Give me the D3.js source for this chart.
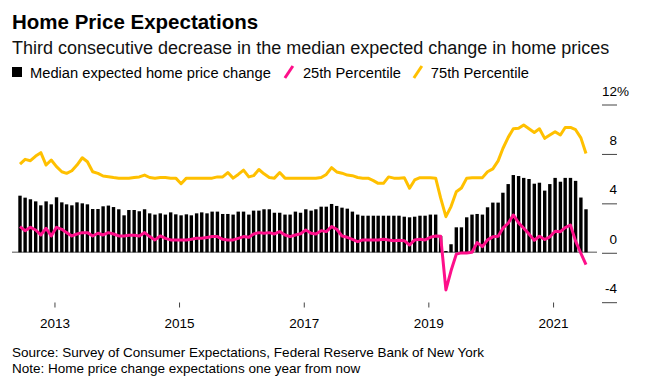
<!DOCTYPE html>
<html>
<head>
<meta charset="utf-8">
<title>Home Price Expectations</title>
<style>
    body { margin: 0; background: #fff; }
    svg { display: block; font-family: "Liberation Sans", Arial, sans-serif; }
    .axis text { font-size: 13.5px; fill: #000; }
    .axis line { stroke: #444; }
</style>
<script src="https://cdn.jsdelivr.net/npm/d3@7"></script>
</head>
<body>
<script>
    const width = 646, height = 383;

    // monthly survey, Jun 2013 .. Jul 2022
    const firstMonth = new Date(2013, 5, 1),
        lastMonth = new Date(2022, 6, 1);
    const months = d3.timeMonth.range(firstMonth, d3.timeMonth.offset(lastMonth, 1));

    const median = [
        4.58, 4.42, 4.29, 4.12, 3.80, 4.12, 3.88, 4.45, 4.04, 3.88,
        3.80, 4.04, 3.96, 3.88, 3.50, 3.50, 3.72, 3.78, 3.66, 3.48,
        2.99, 3.42, 3.42, 3.32, 3.48, 3.15, 3.05, 3.15, 3.05, 3.23,
        3.07, 2.99, 3.07, 2.99, 3.15, 3.23, 3.15, 3.29, 3.29, 3.10,
        3.10, 3.05, 3.29, 3.29, 3.05, 3.37, 3.37, 3.48, 3.48, 3.20,
        3.20, 3.05, 3.05, 3.29, 3.20, 3.48, 3.37, 3.48, 3.69, 3.69,
        3.91, 3.75, 3.61, 3.53, 3.29, 3.05, 2.96, 2.96, 2.96, 2.96,
        2.96, 2.96, 2.96, 2.96, 2.88, 2.83, 2.88, 2.96, 2.96, 3.05,
        3.05, 1.32, 0.10, 0.65, 2.02, 2.02, 2.83, 3.05, 3.10, 3.05,
        3.64, 4.02, 4.02, 4.82, 5.52, 6.25, 6.17, 6.02, 5.93, 5.55,
        5.63, 4.99, 5.52, 6.02, 5.71, 6.02, 6.02, 5.78, 4.43, 3.48
    ];

    const pct25 = [
        2.08, 1.75, 2.02, 1.80, 1.40, 1.94, 1.32, 2.02, 1.86, 1.59,
        1.32, 1.48, 1.59, 1.59, 1.32, 1.54, 1.40, 1.59, 1.48, 1.32,
        1.32, 1.37, 1.37, 1.32, 1.59, 1.27, 1.00, 1.32, 1.13, 1.00,
        1.00, 1.00, 1.00, 1.05, 1.13, 1.13, 1.20, 1.27, 1.27, 1.05,
        1.00, 1.00, 1.13, 1.27, 1.21, 1.48, 1.59, 1.54, 1.59, 1.48,
        1.67, 1.40, 1.27, 1.40, 1.50, 1.80, 1.54, 1.48, 1.75, 1.67,
        2.08, 1.86, 1.32, 1.21, 1.05, 0.86, 1.00, 1.00, 1.00, 1.00,
        1.05, 1.00, 0.94, 0.98, 0.94, 0.59, 1.00, 1.05, 1.00, 1.21,
        1.32, 1.30, -3.05, -1.50, -0.15, -0.05, -0.05, 0.00, 0.78, 0.46,
        1.00, 1.25, 1.30, 1.95, 2.35, 3.02, 2.38, 1.94, 1.47, 0.97,
        1.30, 1.03, 1.25, 1.70, 1.67, 2.00, 2.20, 0.90, -0.08, -1.00
    ];

    const pct75 = [
        7.14, 7.52, 7.41, 7.79, 8.06, 7.06, 7.47, 6.93, 6.52, 6.39,
        6.60, 7.06, 7.65, 7.33, 6.52, 6.39, 6.17, 6.12, 6.05, 6.00,
        6.00, 6.00, 6.05, 6.10, 6.25, 6.05, 6.00, 6.05, 6.05, 6.00,
        6.00, 5.55, 6.00, 6.00, 6.00, 6.00, 6.00, 6.00, 6.10, 6.10,
        6.45, 6.00, 6.30, 6.65, 6.10, 6.20, 6.70, 6.35, 6.05, 6.00,
        6.45, 6.00, 6.00, 6.00, 6.00, 6.00, 6.00, 6.00, 6.05, 6.30,
        6.85, 6.50, 6.40, 6.25, 6.20, 6.05, 6.00, 6.00, 5.80, 5.58,
        5.58, 6.10, 6.00, 6.00, 6.04, 5.18, 5.85, 6.04, 6.04, 6.04,
        6.00, 4.40, 2.88, 3.70, 4.90, 5.20, 6.00, 6.04, 6.04, 6.04,
        6.52, 6.75, 7.40, 8.40, 9.30, 10.00, 10.03, 10.30, 10.00, 9.70,
        10.00, 9.22, 9.49, 9.76, 9.49, 10.10, 10.10, 9.92, 9.26, 8.00
    ];

    const yTicks = [-4, 0, 4, 8, 12];
    const xTickYears = [2013, 2015, 2017, 2019, 2021];

    const pink = "#fe0f8a", yellow = "#ffc000";

    const data = months.map((m, i) => ({date: m, med: median[i], p25: pct25[i], p75: pct75[i]}));

    const x = d3.scaleTime()
        .domain([firstMonth, lastMonth])
        .range([20, 586]);

    const y = d3.scaleLinear()
        .domain([-4, 12])
        .range([301.7, 104]);

    const svg = d3.select("body").append("svg")
        .attr("width", width)
        .attr("height", height);

    svg.append("rect").attr("width", width).attr("height", height).attr("fill", "#fff");

    // titles
    svg.append("text")
        .attr("x", 12).attr("y", 29)
        .attr("font-size", "20.5px")
        .attr("font-weight", "bold")
        .text("Home Price Expectations");

    svg.append("text")
        .attr("x", 12).attr("y", 54)
        .attr("font-size", "18px")
        .attr("fill", "#111")
        .text("Third consecutive decrease in the median expected change in home prices");

    // legend
    const legend = svg.append("g").attr("font-size", "14.7px");
    legend.append("rect")
        .attr("x", 12).attr("y", 67).attr("width", 10).attr("height", 10)
        .attr("fill", "#000");
    const t1 = legend.append("text").attr("x", 30).attr("y", 77.5)
        .text("Median expected home price change");
    let lx = 30 + t1.node().getComputedTextLength() + 14;
    legend.append("line")
        .attr("x1", lx).attr("y1", 78).attr("x2", lx + 8).attr("y2", 66)
        .attr("stroke", pink).attr("stroke-width", 3);
    const t2 = legend.append("text").attr("x", lx + 18).attr("y", 77.5)
        .text("25th Percentile");
    lx = lx + 18 + t2.node().getComputedTextLength() + 13;
    legend.append("line")
        .attr("x1", lx).attr("y1", 78).attr("x2", lx + 8).attr("y2", 66)
        .attr("stroke", yellow).attr("stroke-width", 3);
    legend.append("text").attr("x", lx + 17).attr("y", 77.5)
        .text("75th Percentile");

    // zero line
    svg.append("line")
        .attr("x1", 12).attr("x2", 597)
        .attr("y1", y(0)).attr("y2", y(0))
        .attr("stroke", "#8c8c8c")
        .attr("stroke-width", 1.5);

    // median bars
    svg.append("g")
        .selectAll("rect")
        .data(data)
        .enter().append("rect")
        .attr("x", d => x(d.date) - 1.7)
        .attr("width", 3.4)
        .attr("y", d => y(Math.max(0, d.med)))
        .attr("height", d => Math.abs(y(d.med) - y(0)))
        .attr("fill", "#000");

    const line = key => d3.line()
        .x(d => x(d.date))
        .y(d => y(d[key]));

    svg.append("path")
        .datum(data)
        .attr("d", line("p75"))
        .attr("fill", "none")
        .attr("stroke", yellow)
        .attr("stroke-width", 3)
        .attr("stroke-linejoin", "round");

    svg.append("path")
        .datum(data)
        .attr("d", line("p25"))
        .attr("fill", "none")
        .attr("stroke", pink)
        .attr("stroke-width", 3)
        .attr("stroke-linejoin", "round");

    // y axis, right side, labels sit above the ticks
    const yAxis = svg.append("g")
        .attr("class", "axis")
        .attr("transform", "translate(602,0)")
        .call(d3.axisRight(y).tickValues(yTicks).tickSize(15).tickFormat(d => String(d)));
    yAxis.select(".domain").remove();
    yAxis.selectAll("line").attr("y1", 0.5).attr("y2", 0.5);
    yAxis.selectAll("text")
        .attr("x", 15)
        .attr("dy", null)
        .attr("y", -9)
        .attr("text-anchor", "end");
    yAxis.selectAll(".tick")
        .filter(d => d === 12)
        .append("text")
        .attr("x", 15).attr("y", -9)
        .text("%");

    // x axis
    const xAxis = svg.append("g")
        .attr("class", "axis")
        .attr("transform", "translate(0,302.5)")
        .call(d3.axisBottom(x)
            .tickValues(xTickYears.map(yr => new Date(yr, 11, 20)))
            .tickSize(5)
            .tickFormat(d3.timeFormat("%Y")));
    xAxis.select(".domain").remove();
    xAxis.selectAll("text").attr("y", 15.5);

    // footnotes
    svg.append("text")
        .attr("x", 12).attr("y", 357)
        .attr("font-size", "13.5px")
        .text("Source: Survey of Consumer Expectations, Federal Reserve Bank of New York");
    svg.append("text")
        .attr("x", 12).attr("y", 373)
        .attr("font-size", "13.5px")
        .text("Note: Home price change expectations one year from now");
</script>
</body>
</html>
